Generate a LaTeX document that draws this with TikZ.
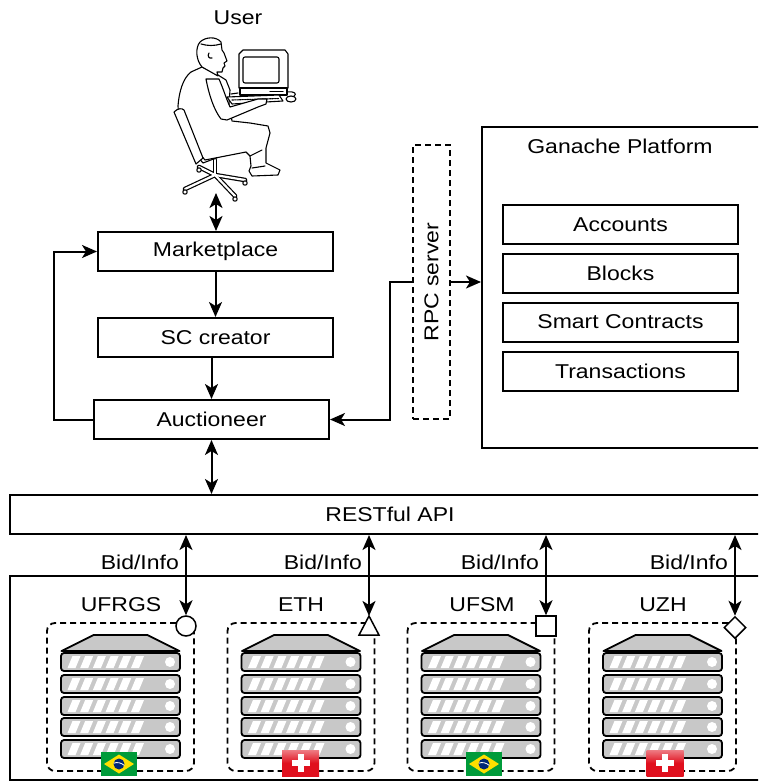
\documentclass[tikz,border=0pt]{standalone}
\usepackage{fontspec}
\usepackage{graphicx}
\setmainfont{Liberation Sans}[FakeStretch=1.15]
\usetikzlibrary{arrows.meta,shapes.geometric}

\definecolor{srvgray}{HTML}{C8C8C8}
\definecolor{brgreen}{HTML}{009B3A}
\definecolor{bryellow}{HTML}{FEDF00}
\definecolor{brblue}{HTML}{002776}
\definecolor{chred}{HTML}{E0101E}

\tikzset{
  txt/.style={font=\fontsize{20}{24}\selectfont, inner sep=0pt},
  box/.style={draw, line width=2pt, minimum width=235pt, minimum height=39pt, inner sep=0pt, txt},
  link/.style={line width=2pt},
  grp/.style={draw, line width=1.8pt, dash pattern=on 6pt off 4pt, rounded corners=8pt,
              minimum width=147pt, minimum height=148pt, inner sep=0pt},
  endmark/.style={draw, line width=1.5pt, fill=white, inner sep=0pt},
  server/.pic={
    \draw[line width=1.8pt, fill=srvgray, line join=round] (-27,0) -- (27,0) -- (59,16) -- (-59,16) -- cycle;
    \foreach \t in {18,40,62,83,105} {
      \draw[line width=1.8pt, fill=srvgray, rounded corners=3pt] (-59.5,\t) rectangle (59.5,\t+18);
      \foreach \i in {0,...,5}
        \fill[white] (-53+\i*12.7,\t+15) -- ++(8,0) -- ++(5,-12) -- ++(-8,0) -- cycle;
      \fill[white] (49.5,\t+9) circle (5pt);
    }
  },
  brazil/.pic={
    \fill[brgreen] (-18,-12) rectangle (18,12);
    \fill[bryellow] (-15,0) -- (0,-9.5) -- (15,0) -- (0,9.5) -- cycle;
    \fill[brblue] (0,0) circle (5.5pt);
    \draw[white, line width=0.8pt] (-5.2,-0.8) .. controls (-2,-2.2) and (2,-1.4) .. (5.3,1.4);
  },
  swiss/.pic={
    \shade[top color=chred!55!white, bottom color=chred, middle color=chred] (-18.5,-13) rectangle (18.5,13);
    \fill[white] (-3,-9) rectangle (3,9);
    \fill[white] (-9,-3) rectangle (9,3);
  }
}

\begin{document}
\begin{tikzpicture}[x=1pt, y=-1pt, >={Stealth[length=15pt,width=13pt,inset=4pt]}]
\path[use as bounding box, clip] (0,0) rectangle (758,782);
\fill[white] (0,0) rectangle (758,782);

% ---------- user at the workstation ----------
\node[txt] (usertitle) at (238,18) {User};
\begin{scope}[line width=1.1pt, line join=round, line cap=round]
  % chair base
  \foreach \ex/\ey in {185/189, 235/196, 245/180, 199/167}
    \draw[line width=4.6pt] (215,175) -- (\ex,\ey);
  \draw[line width=4.6pt] (215,160) -- (215,175);
  \foreach \ex/\ey in {185/189, 235/196, 245/180, 199/167}
    \draw[white, line width=2.2pt] (215,175) -- (\ex,\ey);
  \draw[white, line width=2.2pt] (215,160) -- (215,175);
  \foreach \ex/\ey in {185/189, 235/196, 245/180, 199/167}
    \draw[fill=white] (\ex,\ey+3) circle (2.2pt);
  % seat
  \draw[fill=white] (198,157) -- (249,140) -- (253,144) -- (203,163) -- cycle;
  % body and legs
  \draw[fill=white] (202,67) -- (191,72) .. controls (183,78) and (179,92) .. (178,106)
    .. controls (178,120) and (186,138) .. (198,152) -- (205,160) -- (246,152) -- (250,156)
    -- (251,166) -- (249,171) -- (252,176) -- (278,175) -- (280,170) -- (272,166) -- (266,163)
    -- (266,148) -- (270,133) -- (268,126) -- (250,123) -- (232,121) -- (229,104) -- (230,90)
    -- (226,80) -- (218,75) -- cycle;
  \draw (250,156) -- (262,150);
  \draw (252,168) -- (265,166);
  % chair back
  \draw[fill=white] (174,112) .. controls (178,108) and (182,108) .. (184,110) -- (203,158) -- (196,164) -- cycle;
  % head
  \draw[fill=white] (202,67) .. controls (196,60) and (195,48) .. (200,42)
    .. controls (205,37) and (216,36) .. (221,42) -- (222,50) -- (224,53) -- (227,61)
    -- (224,63) -- (225,66) -- (223,68) -- (222,72) -- (217,72) -- (218,76) -- cycle;
  \draw (201,44) .. controls (208,46) and (214,46) .. (221,44);
  \draw (209,53) .. controls (207,56) and (209,59) .. (212,58);
  % computer
  \draw[fill=white] (239,88) -- (239,54) -- (243,50) -- (285,50) -- (288,54) -- (288,88) -- cycle;
  \draw[rounded corners=2pt] (243,57) rectangle (279,83);
  \draw[fill=white] (240,88) rectangle (287,95);
  \draw (270,91.5) -- (283,91.5);
  \draw[fill=white] (227,97) -- (279,95) -- (283,101) -- (232,104) -- cycle;
  \draw[dash pattern=on 1.5pt off 1pt] (232,100) -- (279,98.5);
  \draw[fill=white] (291,99) ellipse (5pt and 3pt);
  \draw (287,92) .. controls (295,91) and (297,94) .. (294,96);
  % arm
  \draw[fill=white] (206,79) .. controls (209,95) and (214,110) .. (221,119) -- (227,120)
    -- (258,107) -- (266,104) -- (267,99) -- (258,99) -- (230,107)
    .. controls (226,98) and (223,88) .. (219,79) -- cycle;
  \draw (231,94) -- (238,93);
\end{scope}
\coordinate (user) at (216,193);

% ---------- application components ----------
\node[box] (market) at (215.5,251.5) {Marketplace};
\node[box] (creator) at (215.5,337.5) {SC creator};
\node[box] (auct) at (211.5,419.5) {Auctioneer};

\node[draw, line width=1.8pt, dash pattern=on 6pt off 4pt, minimum width=37pt, minimum height=274pt,
      inner sep=0pt, txt] (rpc) at (431.5,282) {\rotatebox{90}{RPC server}};

\node[draw, line width=2pt, minimum width=288pt, minimum height=321pt] (ganache) at (626,287.5) {};
\node[txt] (ganachetitle) at (620,146) {Ganache Platform};
\node[box] (accounts) at (620.5,224.5) {Accounts};
\node[box] (blocks) at (620.5,273) {Blocks};
\node[box] (contracts) at (620.5,322) {Smart Contracts};
\node[box] (transactions) at (620.5,371) {Transactions};

\node[draw, line width=2pt, minimum width=760pt, minimum height=39pt, inner sep=0pt, txt] (rest) at (390,514.5) {RESTful API};

% ---------- connectors ----------
\draw[link, <->] (user) -- (market.north -| user);
\draw[link, ->] (market.south -| creator) -- (creator.north);
\draw[link, ->] (creator.south -| auct) -- (auct.north);
\draw[link, ->] (auct.west) -- ++(-39,0) |- (market.west);
\draw[link, ->] (rpc.west) -- ++(-22,0) |- (auct.east);
\draw[link, ->] (rpc.east) -- (rpc.east -| ganache.west);
\draw[link, <->] (auct.south) -- (auct.south |- rest.north);

% ---------- providers ----------
\node[draw, line width=2pt, minimum width=760pt, minimum height=204pt] (providers) at (390,678) {};

\foreach \nm/\cx/\lx/\lab in {g1/120.5/121/UFRGS, g2/301/301/ETH, g3/481/482/UFSM, g4/662.5/663/UZH} {
  \node[grp] (\nm) at (\cx,697) {};
  \node[txt] (\nm label) at (\lx,605) {\lab};
  \pic at (\cx,635) {server};
}
\pic at (119,764) {brazil};
\pic at (300.5,763) {swiss};
\pic at (484,764) {brazil};
\pic at (665,763) {swiss};

% end markers of the bid channels
\node[endmark, circle, minimum size=20pt] (m1) at (186,626) {};
\coordinate (m2) at (369,616);
\draw[line width=1.5pt, fill=white, line join=miter] (m2) -- ++(10,19) -- ++(-20,0) -- cycle;
\node[endmark, rectangle, minimum size=20pt] (m3) at (546,626) {};
\node[endmark, diamond, minimum width=22pt, minimum height=22pt] (m4) at (735,627.5) {};

\foreach \m in {m1,m2,m3,m4}
  \draw[link, <->] (\m |- rest.south) -- (\m.north);

\foreach \m/\nm in {m1/b1,m2/b2,m3/b3,m4/b4}
  \node[txt, anchor=east] (\nm) at ([xshift=-7pt]\m |- 0,562) {Bid/Info};
\end{tikzpicture}
\end{document}
